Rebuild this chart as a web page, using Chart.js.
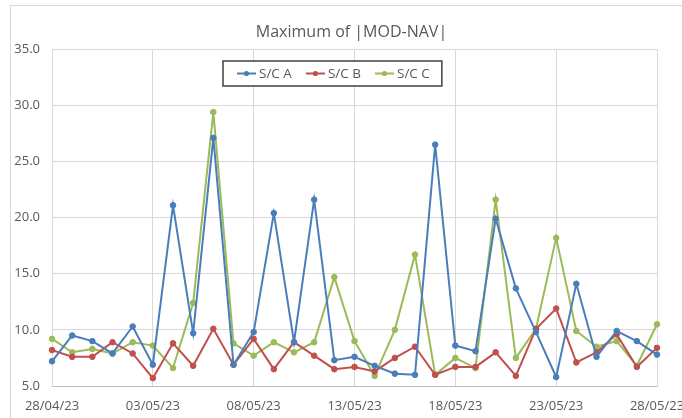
<!DOCTYPE html>
<html>
<head>
<meta charset="utf-8">
<script src="https://cdn.jsdelivr.net/npm/chart.js@4.4.1/dist/chart.umd.min.js"></script>
<style>
  html, body { margin: 0; padding: 0; background: #fff; }
  #wrap { width: 682px; height: 418px; }
</style>
</head>
<body>
<div id="wrap"><canvas id="chart" width="682" height="418"></canvas></div>
<script>
const days = [
  '28/04/23', '29/04/23', '30/04/23', '01/05/23', '02/05/23', '03/05/23', '04/05/23', '05/05/23',
  '06/05/23', '07/05/23', '08/05/23', '09/05/23', '10/05/23', '11/05/23', '12/05/23', '13/05/23',
  '14/05/23', '15/05/23', '16/05/23', '17/05/23', '18/05/23', '19/05/23', '20/05/23', '21/05/23',
  '22/05/23', '23/05/23', '24/05/23', '25/05/23', '26/05/23', '27/05/23', '28/05/23',
];

const scA = [7.2, 9.5, 9.0, 7.9, 10.3, 6.9, 21.1, 9.7, 27.1, 6.9, 9.8, 20.4, 8.9, 21.6, 7.3, 7.6,
  6.8, 6.1, 6.0, 26.5, 8.6, 8.1, 19.9, 13.7, 9.8, 5.8, 14.1, 7.6, 9.9, 9.0, 7.8];
const scB = [8.2, 7.6, 7.6, 8.9, 7.9, 5.7, 8.8, 6.8, 10.1, 6.9, 9.2, 6.5, 8.9, 7.7, 6.5, 6.7,
  6.3, 7.5, 8.5, 6.0, 6.7, 6.7, 8.0, 5.9, 10.1, 11.9, 7.1, 8.0, 9.6, 6.7, 8.4];
const scC = [9.2, 8.0, 8.3, 7.9, 8.9, 8.6, 6.6, 12.4, 29.4, 8.8, 7.7, 8.9, 8.0, 8.9, 14.7, 9.0,
  5.9, 10.0, 16.7, 6.0, 7.5, 6.6, 21.6, 7.5, 10.1, 18.2, 9.9, 8.5, 9.0, 6.8, 10.5];

const seriesNames = ['S/C A', 'S/C B', 'S/C C'];
const yMin = 5;
const yMax = 35;
const yStep = 5;

const colors = ['#4a7ebb', '#c0504d', '#9bbb59'];
const textColor = '#595959';
const gridColor = '#d9d9d9';
const fontFamily = "'Open Sans', 'Noto Sans', sans-serif";

// outer frame of the chart object
const framePlugin = {
  id: 'frame',
  afterLayout(chart) {
    // title is centred on the whole chart object, not the plot
    if (chart.titleBlock) {
      chart.titleBlock.left += 17;
      chart.titleBlock.right += 17;
    }
  },
  beforeDraw(chart) {
    const { ctx, width, height } = chart;
    ctx.save();
    ctx.fillStyle = '#fff';
    ctx.fillRect(0, 0, width, height);
    ctx.strokeStyle = gridColor;
    ctx.lineWidth = 1;
    ctx.strokeRect(10.5, 5.5, width + 20, height + 20);
    ctx.restore();
  },
};

// boxed legend sitting inside the plot area
const boxLegendPlugin = {
  id: 'boxLegend',
  afterDraw(chart) {
    const { ctx } = chart;
    const left = 223;
    const top = 61;
    const h = 25;
    const lineLen = 19;
    const gap = 3;
    const itemGap = 14;
    ctx.save();
    ctx.font = `13.5px ${fontFamily}`;
    const widths = chart.data.datasets.map((ds) => ctx.measureText(ds.label).width);
    const total = widths.reduce((s, w) => s + lineLen + gap + w, 0) + itemGap * (widths.length - 1);
    const padL = 14;
    const padR = 12;
    const w = total + padL + padR;
    ctx.fillStyle = '#fff';
    ctx.fillRect(left, top, w, h);
    ctx.strokeStyle = '#404040';
    ctx.lineWidth = 1.5;
    ctx.strokeRect(left, top, w, h);
    const cy = top + h / 2;
    let x = left + padL;
    chart.data.datasets.forEach((ds, i) => {
      ctx.strokeStyle = ds.borderColor;
      ctx.lineWidth = 2;
      ctx.beginPath();
      ctx.moveTo(x, cy);
      ctx.lineTo(x + lineLen, cy);
      ctx.stroke();
      ctx.fillStyle = ds.borderColor;
      ctx.beginPath();
      ctx.arc(x + lineLen / 2, cy, 2.6, 0, Math.PI * 2);
      ctx.fill();
      ctx.fillStyle = textColor;
      ctx.textBaseline = 'middle';
      ctx.textAlign = 'left';
      ctx.fillText(ds.label, x + lineLen + gap, cy + 1);
      x += lineLen + gap + widths[i] + itemGap;
    });
    ctx.restore();
  },
};

const makeSet = (label, data, color) => ({
  label,
  data,
  borderColor: color,
  backgroundColor: color,
  pointBackgroundColor: color,
  pointBorderColor: color,
  borderWidth: 2,
  pointRadius: 2.8,
  pointBorderWidth: 1,
  tension: 0,
  fill: false,
});

new Chart(document.getElementById('chart'), {
  type: 'line',
  data: {
    labels: days,
    datasets: [
      makeSet(seriesNames[0], scA, colors[0]),
      makeSet(seriesNames[1], scB, colors[1]),
      makeSet(seriesNames[2], scC, colors[2]),
    ],
  },
  options: {
    responsive: false,
    animation: false,
    layout: { padding: { left: 12, right: 25, top: 0, bottom: 0 } },
    plugins: {
      legend: { display: false },
      tooltip: { enabled: false },
      title: {
        display: true,
        text: 'Maximum of |MOD-NAV|',
        color: textColor,
        font: { family: fontFamily, size: 16, weight: 'normal' },
        padding: { top: 23, bottom: 7 },
      },
    },
    scales: {
      x: {
        offset: false,
        grid: {
          color: (c) => (c.index % 5 === 0 ? gridColor : 'transparent'),
          drawTicks: false,
        },
        border: { color: '#bfbfbf' },
        ticks: {
          autoSkip: false,
          maxRotation: 0,
          padding: 12,
          color: textColor,
          font: { family: fontFamily, size: 13 },
          callback: (v, i) => (i % 5 === 0 ? days[i] : ''),
        },
        afterFit: (s) => {
          s.height = 32;
          s.paddingLeft = 0;
          s.paddingRight = 0;
        },
      },
      y: {
        min: yMin,
        max: yMax,
        grid: { color: gridColor, drawTicks: false },
        border: { display: false },
        ticks: {
          stepSize: yStep,
          padding: 12,
          color: textColor,
          font: { family: fontFamily, size: 13 },
          callback: (v) => Number(v).toFixed(1),
        },
        afterFit: (s) => {
          s.width = 40;
        },
      },
    },
  },
  plugins: [framePlugin, boxLegendPlugin],
});
</script>
</body>
</html>
